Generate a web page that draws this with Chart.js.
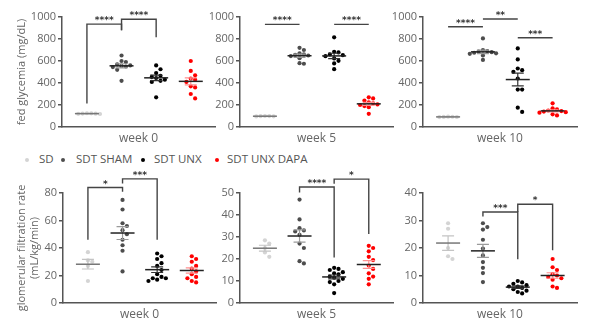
<!DOCTYPE html>
<html lang="en">
<head>
<meta charset="UTF-8">
<title>Fed glycemia and GFR</title>
<script src="https://cdn.jsdelivr.net/npm/chart.js"></script>
<style>
  body { margin: 0; background: #fff; font-family: 'Open Sans', sans-serif; }
  #wrap { position: relative; width: 600px; height: 329px; overflow: hidden; }
  #wrap canvas { position: absolute; }
  .lg { position: absolute; top: 151px; font-size: 11.5px; color: #555; white-space: nowrap; }
  .dot { position: absolute; top: 158px; width: 4px; height: 4px; border-radius: 50%; }
</style>
</head>
<body>
<div id="wrap">
  <span class="dot" style="left:25px;background:#d4d4d4"></span><span class="lg" style="left:39px">SD</span>
  <span class="dot" style="left:61px;background:#4d4d4d"></span><span class="lg" style="left:76px">SDT SHAM</span>
  <span class="dot" style="left:141px;background:#000"></span><span class="lg" style="left:154px">SDT UNX</span>
  <span class="dot" style="left:215px;background:#f00"></span><span class="lg" style="left:227px">SDT UNX DAPA</span>
</div>
<script>
const groups = ['SD', 'SDT SHAM', 'SDT UNX', 'SDT UNX DAPA'];
const weeks = ['week 0', 'week 5', 'week 10'];

// fed glycemia (mg/dL), one list per group
const glyW0 = [
  [120, 122, 125, 118, 124, 121],
  [650, 600, 590, 570, 560, 555, 550, 545, 520, 420],
  [560, 525, 490, 465, 455, 445, 430, 420, 410, 270],
  [600, 510, 470, 440, 430, 410, 370, 360, 300, 260]
];
const glyW5 = [
  [100, 98, 96, 97, 99],
  [720, 700, 670, 660, 655, 650, 645, 625, 580, 575],
  [815, 684, 678, 660, 653, 644, 623, 602, 578, 526],
  [270, 260, 240, 225, 215, 205, 200, 190, 180, 120]
];
const glyW10 = [
  [92, 90, 94, 91, 93],
  [805, 700, 690, 685, 680, 675, 670, 665, 650, 610],
  [714, 614, 532, 517, 502, 441, 340, 340, 176, 137],
  [215, 170, 160, 150, 145, 140, 135, 130, 115, 105]
];

// glomerular filtration rate (mL/kg/min)
const gfrW0 = [
  [37, 31, 30, 27, 16],
  [75, 68, 58, 56, 53, 50, 46, 42, 38, 23],
  [36, 34, 32, 29, 27, 24, 21, 19, 18, 18, 17, 16],
  [34, 32, 30, 27, 25, 23, 21, 19, 18, 16, 15]
];
const gfrW5 = [
  [28.5, 27, 25, 23, 21],
  [47, 38, 34, 33, 32.5, 31, 27, 25, 19, 18],
  [16, 15.5, 15, 14, 13.5, 13, 12, 11.5, 11, 10, 9.5, 8.5, 4.5],
  [26, 25, 23.5, 21, 19.5, 17, 15.5, 13.5, 12, 11, 8.5]
];
const gfrW10 = [
  [29, 27, 20, 17, 16],
  [29, 27.6, 26.7, 23, 19.8, 17.3, 14.9, 12.8, 10.9, 7.6],
  [8, 7.5, 7, 6.5, 6, 6, 5.5, 5, 4.5, 4, 3.5],
  [16, 13, 12, 10.5, 10, 9.5, 9, 8.5, 6, 5.5]
];

// y tick labels
const glyTicks = [0, 200, 400, 600, 800, 1000];
const gfrTicksW0 = [0, 20, 40, 60, 80];
const gfrTicksW5 = [0, 10, 20, 30, 40, 50];
const gfrTicksW10 = [0, 10, 20, 30, 40];

// significance: [group a, group b, stars]
const glyW0Sig = [[0, 1, '****'], [1, 2, '****']];
const glyW5Sig = [[0, 1, '****'], [2, 3, '****']];
const glyW10Sig = [[0, 1, '****'], [1, 2, '**'], [2, 3, '***']];
const gfrW0Sig = [[0, 1, '*'], [1, 2, '***']];
const gfrW5Sig = [[1, 2, '****'], [2, 3, '*']];
const gfrW10Sig = [[1, 2, '***'], [2, 3, '*']];

const dotColors = ['#d4d4d4', '#4d4d4d', '#000000', '#ff0000'];
const semColors = ['#c4c4c4', '#9a9a9a', '#333333', '#ff8f8f'];
const meanColors = ['#777777', '#222222', '#222222', '#222222'];
const axisColor = '#555';
const textColor = '#666';
const font = 'Open Sans';

const plotH = 110;     // px height of each plot area
const groupPx = 35;    // px between group columns

// simple beeswarm so dots with close values sit side by side
function swarm(vals, g, yMax) {
  const pxY = plotH / yMax;
  const d = 4.4;
  const placed = [];
  vals.slice().sort((a, b) => b - a).forEach(v => {
    const yp = v * pxY;
    for (let k = 0; k < 40; k++) {
      const off = (k % 2 ? 1 : -1) * Math.ceil(k / 2) * d;
      if (placed.every(p => Math.hypot(p.xp - off, p.yp - yp) >= d)) {
        placed.push({ xp: off, yp, v });
        break;
      }
    }
  });
  return placed.map(p => ({ x: g + p.xp / groupPx, y: p.v }));
}

// mean line with SEM error bar for each group
const meanSem = {
  id: 'meanSem',
  afterDatasetsDraw(chart) {
    const { ctx, scales: { x, y } } = chart;
    chart.data.datasets.forEach((ds, g) => {
      const v = ds.data.map(p => p.y);
      const n = v.length;
      const m = v.reduce((a, b) => a + b, 0) / n;
      const sd = Math.sqrt(v.reduce((a, b) => a + (b - m) * (b - m), 0) / (n - 1));
      const sem = sd / Math.sqrt(n);
      const cx = x.getPixelForValue(g);
      const y1 = y.getPixelForValue(m + sem), y2 = y.getPixelForValue(m - sem);
      ctx.save();
      ctx.strokeStyle = semColors[g];
      ctx.lineWidth = 1.2;
      ctx.beginPath();
      ctx.moveTo(cx, y1); ctx.lineTo(cx, y2);
      ctx.moveTo(cx - 6, y1); ctx.lineTo(cx + 6, y1);
      ctx.moveTo(cx - 6, y2); ctx.lineTo(cx + 6, y2);
      ctx.stroke();
      ctx.strokeStyle = meanColors[g];
      ctx.lineWidth = 1.5;
      ctx.beginPath();
      const ym = y.getPixelForValue(m);
      ctx.moveTo(cx - 12, ym); ctx.lineTo(cx + 12, ym);
      ctx.stroke();
      ctx.restore();
    });
  }
};

// significance brackets: geometry [top, left end, right end] in y units
const sigBrackets = {
  id: 'sigBrackets',
  afterDraw(chart, args, opts) {
    const { ctx, scales: { x, y } } = chart;
    (opts.sig || []).forEach(([a, b, stars], i) => {
      const [top, e1, e2] = opts.geom[i];
      const xa = x.getPixelForValue(a), xb = x.getPixelForValue(b);
      const yt = y.getPixelForValue(top);
      ctx.save();
      ctx.strokeStyle = '#444';
      ctx.lineWidth = 1.4;
      ctx.beginPath();
      ctx.moveTo(xa, y.getPixelForValue(e1));
      ctx.lineTo(xa, yt);
      ctx.lineTo(xb, yt);
      ctx.lineTo(xb, y.getPixelForValue(e2));
      ctx.stroke();
      ctx.fillStyle = '#333';
      ctx.font = 'bold 9px "DejaVu Sans"';
      ctx.textAlign = 'center';
      ctx.textBaseline = 'alphabetic';
      ctx.fillText(stars, (xa + xb) / 2, yt - 1);
      ctx.restore();
    });
  }
};

function panel(p) {
  const cv = document.createElement('canvas');
  cv.width = p.w; cv.height = p.h;
  cv.style.left = p.left + 'px';
  cv.style.top = p.top + 'px';
  document.getElementById('wrap').appendChild(cv);
  const yMax = p.ticks[p.ticks.length - 1];
  new Chart(cv, {
    type: 'scatter',
    data: {
      datasets: p.values.map((vals, g) => ({
        label: groups[g],
        data: swarm(vals, g, yMax),
        backgroundColor: dotColors[g],
        borderWidth: 0,
        pointRadius: 2.1
      }))
    },
    options: {
      responsive: false,
      animation: false,
      layout: { padding: { top: p.padTop, right: p.padRight, left: 0, bottom: 0 } },
      plugins: {
        legend: { display: false },
        tooltip: { enabled: false },
        sigBrackets: { sig: p.sig, geom: p.geom }
      },
      scales: {
        x: {
          type: 'linear', min: -0.72, max: 3.7,
          ticks: { display: false },
          grid: { display: false },
          border: { color: axisColor, width: 1.5 },
          title: { display: true, text: p.week, color: textColor, font: { family: font, size: 12 }, padding: { bottom: p.weekPad, top: 0 } },
          afterFit: s => { s.height = p.xH; }
        },
        y: {
          min: 0, max: yMax,
          ticks: {
            stepSize: p.ticks[1] - p.ticks[0],
            color: textColor,
            font: { family: font, size: 11 },
            padding: 2,
            callback: v => String(v)
          },
          grid: { drawOnChartArea: false, tickLength: 4, color: axisColor, lineWidth: 1.5 },
          border: { color: axisColor, width: 1.5 },
          title: p.yTitle
            ? { display: true, text: p.yTitle, color: textColor, font: { family: font, size: 11, lineHeight: 1.2 }, padding: { top: 15 } }
            : { display: false },
          afterFit: s => { s.width = p.yW; }
        }
      }
    },
    plugins: [meanSem, sigBrackets]
  });
}

const topRow = { top: 0, h: 150, padTop: 17, xH: 23, weekPad: 4 };
const botRow = { top: 160, h: 169, padTop: 33, xH: 26, weekPad: 7 };

panel({ ...topRow, left: 0, w: 220, yW: 62, padRight: 5, values: glyW0, ticks: glyTicks, week: weeks[0],
  yTitle: 'fed glycemia (mg/dL)', sig: glyW0Sig, geom: [[935, 213, 880], [980, 880, 815]] });
panel({ ...topRow, left: 200, w: 198, yW: 40, padRight: 5, values: glyW5, ticks: glyTicks, week: weeks[1],
  sig: glyW5Sig, geom: [[933, 933, 933], [933, 933, 933]] });
panel({ ...topRow, left: 383, w: 217, yW: 40, padRight: 23, values: glyW10, ticks: glyTicks, week: weeks[2],
  sig: glyW10Sig, geom: [[912, 912, 912], [982, 982, 982], [812, 812, 812]] });

panel({ ...botRow, left: 0, w: 220, yW: 63, padRight: 4, values: gfrW0, ticks: gfrTicksW0, week: weeks[0],
  yTitle: ['glomerular filtration rate', '(mL/kg/min)'], sig: gfrW0Sig, geom: [[84, 46, 81], [90.3, 87, 46]] });
panel({ ...botRow, left: 200, w: 198, yW: 40, padRight: 5, values: gfrW5, ticks: gfrTicksW5, week: weeks[1],
  sig: gfrW5Sig, geom: [[52.7, 50.2, 20.7], [56.3, 54.2, 31.4]] });
panel({ ...botRow, left: 383, w: 217, yW: 40, padRight: 23, values: gfrW10, ticks: gfrTicksW10, week: weeks[2],
  sig: gfrW10Sig, geom: [[33.1, 31.5, 15.9], [35.9, 33.1, 19.2]] });
</script>
</body>
</html>
